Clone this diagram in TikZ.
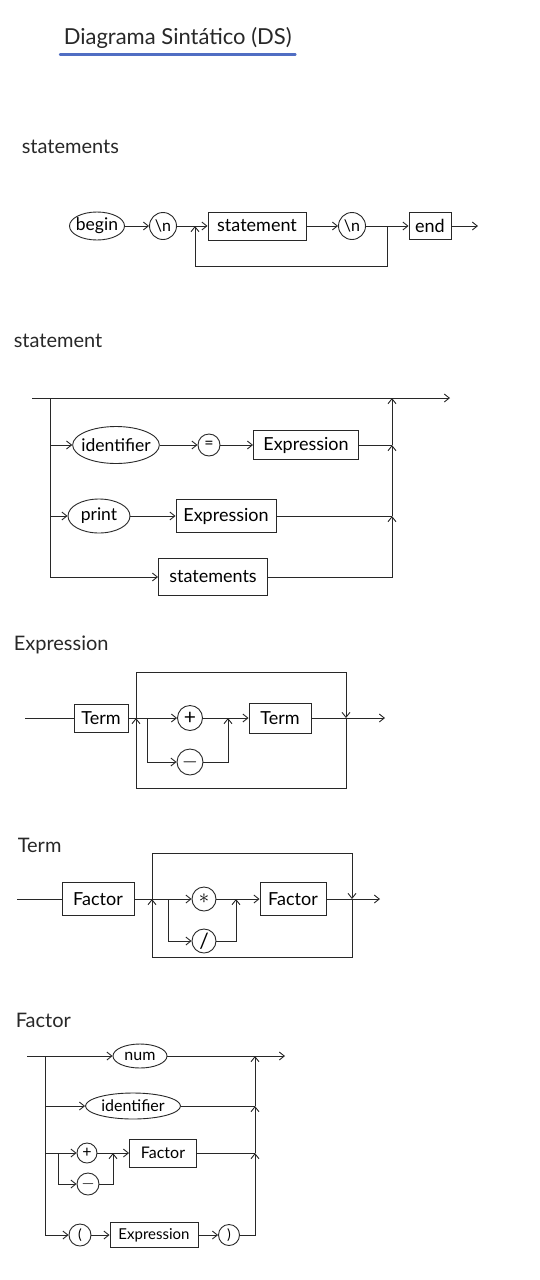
\documentclass[tikz,border=0pt]{standalone}
\usepackage{fontspec}
\setmainfont{Lato}
\usetikzlibrary{arrows.meta,shapes.geometric,positioning}
\definecolor{ink}{RGB}{40,40,40}
\definecolor{penblue}{RGB}{80,110,195}
\tikzset{
  nterm/.style={draw=ink, rectangle, inner sep=1pt, font=\fontsize{18}{18}\selectfont},
  kword/.style={draw=ink, ellipse, inner xsep=-4pt, inner ysep=0pt, font=\fontsize{17.5}{17.5}\selectfont},
  sym/.style={draw=ink, circle, inner sep=0pt, font=\fontsize{16}{16}\selectfont},
  op/.style={sym, font=\fontsize{21}{21}\selectfont},
  heading/.style={anchor=west, text=ink, font=\fontsize{20}{20}\selectfont},
  small/.style={font=\fontsize{16}{16}\selectfont},
}
\begin{document}
\begin{tikzpicture}[x=1pt,y=-1pt,>={Straight Barb[length=5pt,width=8pt]},line width=0.9pt,draw=ink]
\useasboundingbox[fill=white] (0,0) rectangle (539,1280);

% title
\node[anchor=west, text=ink, font=\fontsize{22}{22}\selectfont] (title) at (60,38) {Diagrama Sintático (DS)};
\draw[penblue, line width=2.4pt, line cap=round] ([yshift=-2pt]title.south west) -- ([yshift=-2pt]title.south east);

% statements
\node[heading] (hstmts) at (18,147) {statements};
\node[kword, minimum width=55, minimum height=28] (begin) at (97,226) {begin};
\node[sym, minimum size=27] (nl1) at (163,226) {\textbackslash n};
\coordinate (loopin) at (195,226);
\node[nterm, minimum width=98, minimum height=28] (stmt) at (257,226) {statement};
\node[sym, minimum size=27] (nl2) at (352,226) {\textbackslash n};
\coordinate (loopout) at (387,226);
\node[nterm, minimum width=42, minimum height=27] (end) at (430,226) {end};
\coordinate (stmtsout) at (478,226);
\draw[->] (begin) -- (nl1);
\draw[->] (nl1) -- (stmt);
\draw[->] (stmt) -- (nl2);
\draw[->] (nl2) -- (end);
\draw[->] (end) -- (stmtsout);
\draw[->] (loopout) -- ++(0,40) -| (loopin);

% statement
\node[heading] (hstmt) at (10,341) {statement};
\coordinate (sin) at (32,398);
\coordinate (sfork) at (50,398);
\coordinate (smerge) at (392,398);
\coordinate (sout) at (450,398);
\node[kword, minimum width=86, minimum height=37] (ident) at (116,445) {identifier};
\node[sym, minimum size=22] (eq) at (209,445) {=};
\node[nterm, minimum width=105, minimum height=29] (expr1) at (306,445) {Expression};
\node[kword, minimum width=62, minimum height=34] (print) at (99,516) {print};
\node[nterm, minimum width=100, minimum height=33] (expr2) at (226,516) {Expression};
\node[nterm, minimum width=109, minimum height=37] (stmts) at (213,577) {statements};
\draw[->] (sin) -- (sout);
\draw (sfork) -- (sfork |- stmts);
\draw[->] (sfork |- ident) -- (ident);
\draw[->] (ident) -- (eq);
\draw[->] (eq) -- (expr1);
\draw[->] (sfork |- print) -- (print);
\draw[->] (print) -- (expr2);
\draw[->] (sfork |- stmts) -- (stmts);
\draw[->] (stmts) -| (smerge |- expr2);
\draw (expr2) -- (smerge |- expr2);
\draw[->] (smerge |- expr2) -- (smerge |- expr1);
\draw (expr1) -- (smerge |- expr1);
\draw[->] (smerge |- expr1) -- (smerge);

% Expression
\node[heading] (hexpr) at (10,645) {Expression};
\coordinate (ein) at (25,718);
\node[nterm, minimum width=54, minimum height=28] (eterm1) at (101,718) {Term};
\coordinate (eloopL) at (136,718);
\coordinate (efork) at (147,718);
\node[op, minimum size=25] (plus) at (190,718) {+};
\node[op, minimum size=26] (minus) at (190,762) {$-$};
\coordinate (ejoin) at (228,718);
\node[nterm, minimum width=62, minimum height=30] (eterm2) at (280,718) {Term};
\coordinate (eloopR) at (346,718);
\coordinate (eout) at (385,718);
\draw (ein) -- (eterm1);
\draw[->] (eterm1) -- (plus);
\draw[->] (efork) |- (minus);
\draw[->] (minus) -| (ejoin);
\draw[->] (plus) -- (eterm2);
\draw[->] (eterm2) -- (eout);
\draw[->] (eloopR) -- ++(0,70) -| (eloopL);
\draw[->] (eloopL) -- ++(0,-46) -| (eloopR);

% Term
\node[heading] (hterm) at (14,845) {Term};
\coordinate (tin) at (17,899);
\node[nterm, minimum width=72, minimum height=33] (tfac1) at (98,899) {Factor};
\coordinate (tloopL) at (152,899);
\coordinate (tfork) at (168,899);
\node[op, minimum size=24] (times) at (204,899) {$\ast$};
\node[op, minimum size=24] (divide) at (204,941) {/};
\coordinate (tjoin) at (236,899);
\node[nterm, minimum width=66, minimum height=33] (tfac2) at (293,899) {Factor};
\coordinate (tloopR) at (352,899);
\coordinate (tout) at (380,899);
\draw (tin) -- (tfac1);
\draw[->] (tfac1) -- (times);
\draw[->] (tfork) |- (divide);
\draw[->] (divide) -| (tjoin);
\draw[->] (times) -- (tfac2);
\draw[->] (tfac2) -- (tout);
\draw[->] (tloopR) -- ++(0,58) -| (tloopL);
\draw[->] (tloopL) -- ++(0,-46) -| (tloopR);

% Factor
\node[heading] (hfac) at (12,1020) {Factor};
\coordinate (fin) at (27,1056);
\coordinate (ffork) at (45,1056);
\coordinate (fmerge) at (255,1056);
\coordinate (fout) at (285,1056);
\node[kword, small, minimum width=54, minimum height=24] (num) at (140,1056) {num};
\node[kword, small, minimum width=95, minimum height=26] (fident) at (133,1106) {identifier};
\node[op, minimum size=20, font=\fontsize{16}{16}\selectfont] (fplus) at (87,1153) {+};
\coordinate (fsub) at (58,1153);
\node[op, minimum size=22, font=\fontsize{16}{16}\selectfont] (fminus) at (88,1184) {$-$};
\coordinate (fjoin) at (113,1153);
\node[nterm, small, minimum width=67, minimum height=28] (ffac) at (163,1153) {Factor};
\node[sym, minimum size=22, font=\fontsize{14}{14}\selectfont] (lpar) at (80,1235) {(};
\node[nterm, minimum width=88, minimum height=25, font=\fontsize{15}{15}\selectfont] (fexpr) at (154,1235) {Expression};
\node[sym, minimum size=21, font=\fontsize{14}{14}\selectfont] (rpar) at (229,1235) {)};
\draw[->] (fin) -- (num);
\draw[->] (num) -- (fout);
\draw (ffork) -- (ffork |- lpar);
\draw[->] (ffork |- fident) -- (fident);
\draw[->] (ffork |- fplus) -- (fplus);
\draw[->] (fsub) |- (fminus);
\draw[->] (fminus) -| (fjoin);
\draw[->] (fplus) -- (ffac);
\draw[->] (ffork |- lpar) -- (lpar);
\draw[->] (lpar) -- (fexpr);
\draw[->] (fexpr) -- (rpar);
\draw[->] (rpar) -| (fmerge |- ffac);
\draw (ffac) -- (fmerge |- ffac);
\draw[->] (fmerge |- ffac) -- (fmerge |- fident);
\draw (fident) -- (fmerge |- fident);
\draw[->] (fmerge |- fident) -- (fmerge);
\end{tikzpicture}
\end{document}
